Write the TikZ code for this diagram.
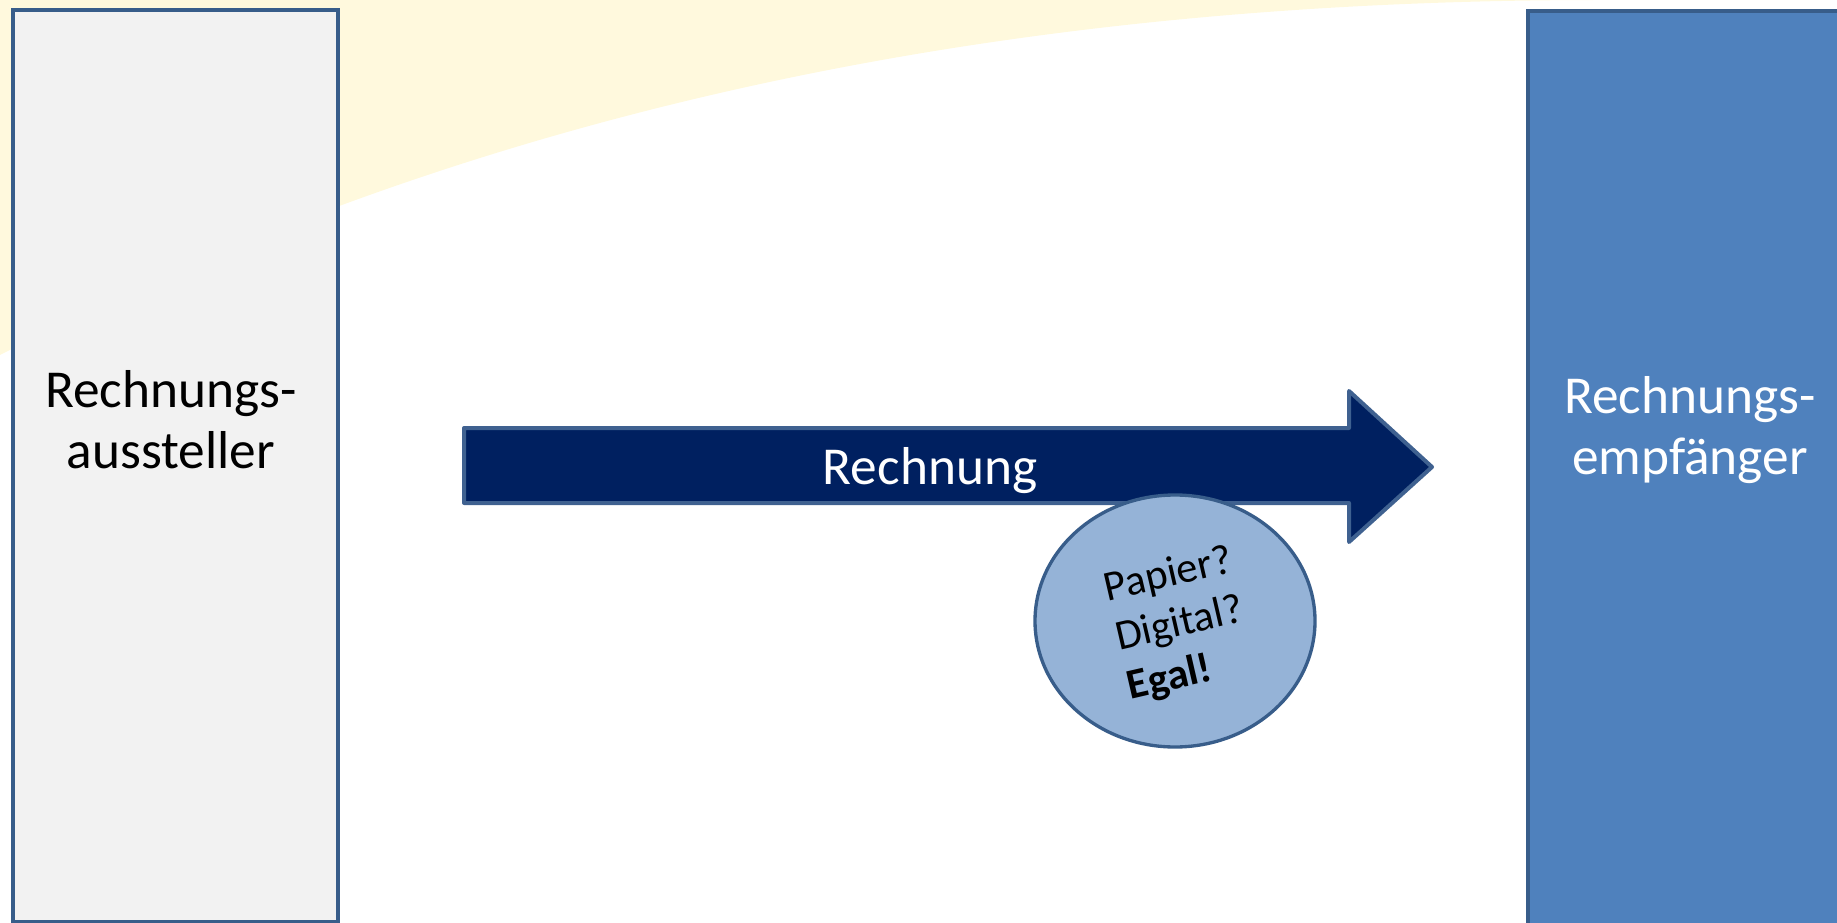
\documentclass[tikz,border=0pt]{standalone}
\usepackage{fontspec}
\setmainfont{Carlito}
\usetikzlibrary{shapes.geometric}
\definecolor{bgyellow}{HTML}{FFF9DD}
\definecolor{boxgray}{HTML}{F2F2F2}
\definecolor{boxblue}{HTML}{4F81BD}
\definecolor{edgeblue}{HTML}{385D8A}
\definecolor{arrowedge}{HTML}{3F6190}
\definecolor{navy}{HTML}{002060}
\definecolor{bubblefill}{HTML}{95B3D7}
\begin{document}
\begin{tikzpicture}[x=0.75pt,y=-0.75pt,
  partybox/.style={rectangle, draw=edgeblue, line width=3pt, inner sep=0pt},
  bigtext/.style={align=center, inner sep=0pt, font=\fontsize{40}{46}\selectfont},
  bubbletext/.style={align=left, inner sep=0pt, font=\fontsize{32}{38}\selectfont, rotate=13}]
\useasboundingbox (0,0) rectangle (1837,923);
\clip (0,0) rectangle (1837,923);
% background swoosh
\fill[bgyellow] (0,0) -- (0,355) .. controls (400,150) and (900,0) .. (1600,0) -- cycle;
% parties
\node[partybox, fill=boxgray, minimum width=243.75pt, minimum height=684pt] (aus) at (175.5,466) {};
\node[bigtext, text=black] (ausT) at (171,420) {Rechnungs-\\aussteller};
\node[partybox, fill=boxblue, minimum width=240pt, minimum height=693pt] (emp) at (1688,473) {};
\node[bigtext, text=white] (empT) at (1690,430) {Rechnungs-\\empfänger};
% block arrow
\draw[arrowedge, fill=navy, line width=3pt, line join=round]
  (464,428) -- (1349,428) -- (1349,391) -- (1432,467) -- (1349,542) -- (1349,503) -- (464,503) -- cycle;
\node[bigtext, text=white] (rech) at (930,471) {Rechnung};
% bubble
\node[ellipse, draw=edgeblue, fill=bubblefill, line width=2.5pt, inner sep=0pt,
      minimum width=210pt, minimum height=189pt] (bub) at (1175,621) {};
\node[bubbletext, text=black] (bubT) at (1180,625) {Papier?\\Digital?\\\textbf{Egal!}};
\end{tikzpicture}
\end{document}
